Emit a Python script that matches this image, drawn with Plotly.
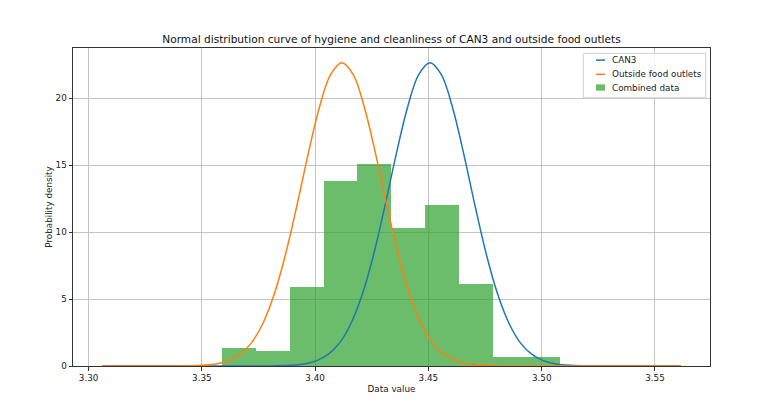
import plotly.graph_objects as go

# Histogram of combined data (density)
bin_edges = [3.3589, 3.3738, 3.3887, 3.4037, 3.4186, 3.4336, 3.4485, 3.4634, 3.4784, 3.4933, 3.5082]
bin_density = [1.37, 1.15, 5.94, 13.79, 15.09, 10.30, 12.02, 6.13, 0.68, 0.68]

# Normal curve for CAN3
can3_x = [3.3059, 3.3507, 3.3807, 3.3907, 3.3957, 3.4007, 3.4057, 3.4107, 3.4157, 3.4207, 3.4257,
          3.4307, 3.4357, 3.4407, 3.4457, 3.4507, 3.4557, 3.4607, 3.4657, 3.4707, 3.4757,
          3.4807, 3.4857, 3.4907, 3.4957, 3.5007, 3.5057, 3.5107, 3.5207, 3.5615]
can3_y = [0.0, 0.0, 0.008, 0.068, 0.172, 0.401, 0.862, 1.71, 3.14, 5.30, 8.26,
          11.88, 15.76, 19.28, 21.77, 22.66, 21.77, 19.28, 15.76, 11.88, 8.26,
          5.30, 3.14, 1.71, 0.862, 0.401, 0.172, 0.068, 0.008, 0.0]

# Normal curve for outside food outlets
out_x = [3.3059, 3.3418, 3.3518, 3.3568, 3.3618, 3.3668, 3.3718, 3.3768, 3.3818, 3.3868,
         3.3918, 3.3968, 3.4018, 3.4068, 3.4118, 3.4168, 3.4218, 3.4268, 3.4318, 3.4368,
         3.4418, 3.4468, 3.4518, 3.4568, 3.4618, 3.4668, 3.4718, 3.4818, 3.5218, 3.5615]
out_y = [0.0, 0.008, 0.068, 0.172, 0.401, 0.862, 1.71, 3.14, 5.30, 8.26,
         11.88, 15.76, 19.28, 21.77, 22.66, 21.77, 19.28, 15.76, 11.88, 8.26,
         5.30, 3.14, 1.71, 0.862, 0.401, 0.172, 0.068, 0.008, 0.0, 0.0]

x_ticks = [3.30, 3.35, 3.40, 3.45, 3.50, 3.55]
y_ticks = [0, 5, 10, 15, 20]

series_names = ["CAN3", "Outside food outlets", "Combined data"]

BLUE, ORANGE, GREEN = "#1f77b4", "#ff7f0e", "#2ca02c"
GREEN_FILL = "rgba(44,160,44,0.7)"

bin_centers = [(a + b) / 2 for a, b in zip(bin_edges[:-1], bin_edges[1:])]
bin_widths = [b - a for a, b in zip(bin_edges[:-1], bin_edges[1:])]

FONT = "DejaVu Sans"
SMALL = 8.8
TEXT = "#222222"

fig = go.Figure()
fig.add_trace(go.Bar(
    x=bin_centers, y=bin_density, width=bin_widths, name=series_names[2],
    marker=dict(color=GREEN_FILL, line=dict(width=0)), showlegend=False,
))
fig.add_trace(go.Scatter(
    x=can3_x, y=can3_y, mode="lines", name=series_names[0],
    line=dict(color=BLUE, width=1.5, shape="spline", smoothing=1.0), showlegend=False,
))
fig.add_trace(go.Scatter(
    x=out_x, y=out_y, mode="lines", name=series_names[1],
    line=dict(color=ORANGE, width=1.5, shape="spline", smoothing=1.0), showlegend=False,
))

axis_common = dict(
    showgrid=True, gridcolor="#c4c4c4", gridwidth=1,
    showline=True, linecolor="#333333", linewidth=1, mirror=True,
    ticks="outside", ticklen=3.5, tickcolor="#333333", tickwidth=0.8,
    zeroline=False, tickfont=dict(family=FONT, size=SMALL, color=TEXT),
)

# Legend drawn as shapes + text (matplotlib-style compact legend)
shapes = [
    dict(type="rect", xref="paper", yref="paper", x0=0.8011, x1=0.9932, y0=0.8436, y1=0.9833,
         line=dict(color="#d0d0d0", width=1), fillcolor="rgba(255,255,255,0.8)", layer="above"),
    dict(type="line", xref="paper", yref="paper", x0=0.8210, x1=0.8352, y0=0.9619, y1=0.9619,
         line=dict(color=BLUE, width=1.5), layer="above"),
    dict(type="line", xref="paper", yref="paper", x0=0.8210, x1=0.8352, y0=0.9172, y1=0.9172,
         line=dict(color=ORANGE, width=1.5), layer="above"),
    dict(type="rect", xref="paper", yref="paper", x0=0.8210, x1=0.8352, y0=0.8658, y1=0.8857,
         line=dict(width=0), fillcolor=GREEN_FILL, layer="above"),
]
annotations = [
    dict(text=name, xref="paper", yref="paper", x=0.8457, y=yy, xanchor="left", yanchor="middle",
         showarrow=False, xshift=-2, font=dict(family=FONT, size=SMALL, color=TEXT))
    for name, yy in zip(series_names, [0.9619, 0.9172, 0.8731])
]

fig.update_layout(
    width=779, height=408,
    margin=dict(l=65, r=77, t=40, b=50),
    paper_bgcolor="white", plot_bgcolor="white",
    font=dict(family=FONT, size=SMALL, color=TEXT),
    bargap=0, barmode="overlay",
    title=dict(
        text="Normal distribution curve of hygiene and cleanliness of CAN3 and outside food outlets",
        font=dict(family=FONT, size=10.6, color="#111111"),
        x=0.5, xref="paper", xanchor="center",
        y=1, yref="paper", yanchor="bottom", pad=dict(b=5),
    ),
    xaxis=dict(
        range=[3.2931, 3.5743], tickvals=x_ticks, tickformat=".2f",
        title=dict(text="Data value", font=dict(family=FONT, size=SMALL, color=TEXT), standoff=3),
        **axis_common,
    ),
    yaxis=dict(
        range=[0, 23.76], tickvals=y_ticks,
        title=dict(text="Probability density", font=dict(family=FONT, size=SMALL, color=TEXT), standoff=1),
        **axis_common,
    ),
    shapes=shapes,
    annotations=annotations,
    showlegend=False,
)

fig.write_html("out.html")
